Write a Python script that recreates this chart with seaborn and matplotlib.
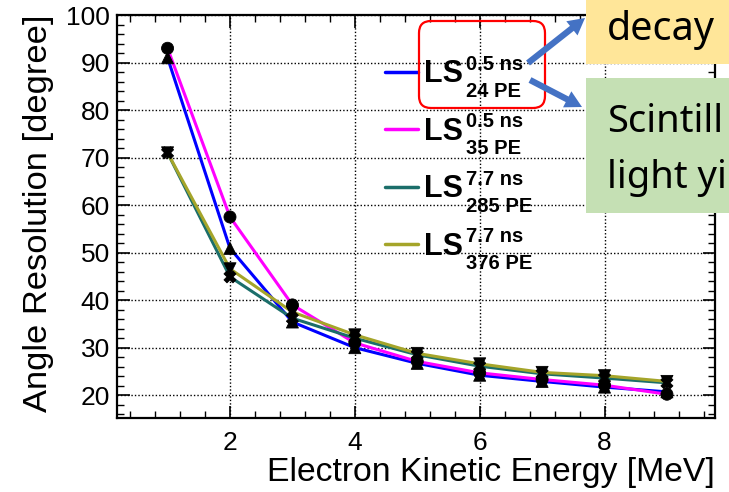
import matplotlib
matplotlib.use("Agg")
import matplotlib.pyplot as plt
import numpy as np
import pandas as pd
import seaborn as sns
from matplotlib.patches import FancyBboxPatch, Rectangle, FancyArrowPatch
from matplotlib.transforms import IdentityTransform
from matplotlib.ticker import MultipleLocator

# ---- data ----
energy = [1, 2, 3, 4, 5, 6, 7, 8, 9]
res_24pe = [91.0, 50.9, 35.4, 30.0, 26.7, 24.2, 22.9, 21.7, 20.7]
res_35pe = [93.0, 57.5, 39.0, 31.0, 27.1, 24.7, 23.3, 22.1, 20.2]
res_285pe = [71.0, 44.9, 36.2, 32.0, 28.5, 26.1, 24.5, 23.6, 22.6]
res_376pe = [71.0, 46.6, 37.5, 32.7, 28.8, 26.6, 24.8, 24.1, 22.9]
series_names = ["LS 0.5 ns 24 PE", "LS 0.5 ns 35 PE", "LS 7.7 ns 285 PE", "LS 7.7 ns 376 PE"]
legend_main = ["LS", "LS", "LS", "LS"]
legend_sup = ["0.5 ns", "0.5 ns", "7.7 ns", "7.7 ns"]
legend_sub = ["24 PE", "35 PE", "285 PE", "376 PE"]
x_ticks = [2, 4, 6, 8]
y_ticks = [20, 30, 40, 50, 60, 70, 80, 90, 100]

line_colors = ["#0000ff", "#ff00ff", "#1b6e6a", "#a5a52a"]
marker_shapes = ["^", "o", "X", "v"]

df = pd.DataFrame({
    "energy": energy * 4,
    "res": res_24pe + res_35pe + res_285pe + res_376pe,
    "series": sum([[lab] * len(energy) for lab in series_names], []),
})

sns.set_theme(style="ticks")
plt.rcParams["font.family"] = ["Liberation Sans", "DejaVu Sans"]
for k in ["text.color", "axes.labelcolor", "xtick.color", "ytick.color", "axes.edgecolor"]:
    plt.rcParams[k] = "black"

W, H = 729, 492
fig = plt.figure(figsize=(W / 100, H / 100), dpi=100)
ax = fig.add_axes([117 / W, 1 - 418 / H, 598 / W, 403 / H])

palette = dict(zip(series_names, line_colors))
sns.lineplot(data=df, x="energy", y="res", hue="series", palette=palette,
             hue_order=series_names, linewidth=2.2, ax=ax, zorder=3)
sns.scatterplot(data=df, x="energy", y="res", style="series",
                style_order=series_names,
                markers=dict(zip(series_names, marker_shapes)),
                color="black", s=75, edgecolor="black", linewidth=0.6,
                legend=False, ax=ax, zorder=4)

ax.set_xlim(0.19, 9.77)
ax.set_ylim(15.2, 100)
ax.set_xticks(x_ticks)
ax.set_yticks(y_ticks)
ax.xaxis.set_minor_locator(MultipleLocator(0.4))
ax.yaxis.set_minor_locator(MultipleLocator(2))
ax.grid(True, which="major", color="black", linestyle=(0, (1, 1.5)), linewidth=1.0)
ax.tick_params(which="both", direction="in", top=True, right=True, colors="black")
ax.tick_params(which="major", length=9, width=1.2, labelsize=19)
ax.tick_params(which="minor", length=5, width=1.0)
ax.tick_params(axis="y", which="major", pad=5)
ax.tick_params(axis="x", which="major", pad=9)
for s in ax.spines.values():
    s.set_linewidth(1.6)
    s.set_color("black")

ax.set_xlabel("Electron Kinetic Energy [MeV]", fontsize=24.3, loc="right", labelpad=2)
ax.set_ylabel("Angle Resolution [degree]", fontsize=24.8, loc="top", labelpad=9)

handles, _ = ax.get_legend_handles_labels()
LS_SIZE = 22
leg = ax.legend(handles, legend_main, loc="upper left", bbox_to_anchor=(0.448, 0.89),
                frameon=False, prop={"size": LS_SIZE, "weight": "bold"},
                handlelength=1.08, handletextpad=0.2,
                labelspacing=0.9, borderpad=0, borderaxespad=0)
for lh in leg.get_lines():
    lh.set_linewidth(2.5)

# ---- annotations (pixel coords, origin top-left) ----
ident = IdentityTransform()

def rect(x0, y0, x1, y1, **kw):
    return Rectangle((x0, H - y1), x1 - x0, y1 - y0, transform=ident, **kw)

red = FancyBboxPatch((419, H - 108), 126, 87, boxstyle="round,pad=0,rounding_size=12",
                     transform=ident, facecolor="none", edgecolor="#ff0000",
                     linewidth=1.6, zorder=10)
fig.patches.append(red)
fig.patches.append(rect(586, 0, W + 2, 64, facecolor="#ffe699", edgecolor="none", zorder=10))
fig.patches.append(rect(586, 78, W + 2, 213, facecolor="#c5e0b4", edgecolor="none", zorder=10))

for (x0, y0, x1, y1) in [(528, 63, 585, 18), (530, 80, 582, 107)]:
    arr = FancyArrowPatch((x0, H - y0), (x1, H - y1), transform=ident,
                          arrowstyle="simple,head_width=13,head_length=12,tail_width=4.5",
                          mutation_scale=1, shrinkA=0, shrinkB=0,
                          facecolor="#4472c4", edgecolor="none", zorder=11)
    fig.patches.append(arr)

note_font = ["Noto Sans", "DejaVu Sans"]
fig.text(607 / W, 1 - 40 / H, "decay", fontsize=28.5, family=note_font,
         va="baseline", ha="left", color="black", zorder=12)
fig.text(607 / W, 1 - 132 / H, "Scintill", fontsize=27.5, family=note_font,
         va="baseline", ha="left", color="black", zorder=12)
fig.text(607 / W, 1 - 188 / H, "light yi", fontsize=27.5, family=note_font,
         va="baseline", ha="left", color="black", zorder=12)

# superscript / subscript parts of the legend labels
fig.canvas.draw()
renderer = fig.canvas.get_renderer()
em = LS_SIZE * 100 / 72
for t, sup, sub in zip(leg.get_texts(), legend_sup, legend_sub):
    bb = t.get_window_extent(renderer)
    base = bb.y0 + 0.212 * em
    fig.text(bb.x1 + 3, base + 13, sup, transform=ident, fontsize=14.5,
             fontweight="bold", va="baseline", ha="left", color="black")
    fig.text(bb.x1 + 3, base - 14, sub, transform=ident, fontsize=14.5,
             fontweight="bold", va="baseline", ha="left", color="black")

fig.savefig("out.png", dpi=100, facecolor="white")
